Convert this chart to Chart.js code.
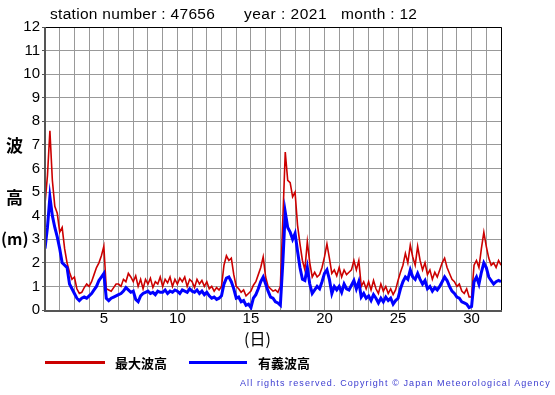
<!DOCTYPE html>
<html>
<head>
<meta charset="utf-8">
<script src="https://cdn.jsdelivr.net/npm/chart.js@4"></script>
<style>
  body { margin: 0; background: #fff; }
  #wrap { position: relative; width: 555px; height: 395px; font-family: "Liberation Sans", Arial, sans-serif; }
  #wrap canvas { position: absolute; left: 0; top: 0; }
  .t { position: absolute; white-space: nowrap; color: #000; }
  .jp { font-family: "Noto Sans CJK JP", sans-serif; }
</style>
</head>
<body>
<div id="wrap">
  <canvas id="grafico" width="555" height="395"></canvas>
  <div class="t" style="left:50px; top:5px; font-size:15.5px; letter-spacing:0.3px;">station number : 47656</div>
  <div class="t" style="left:244px; top:5px; font-size:15.5px; letter-spacing:0.5px;">year : 2021</div>
  <div class="t" style="left:341px; top:5px; font-size:15.5px; letter-spacing:0.3px;">month : 12</div>
  <div class="t jp" style="left:6px; top:132px; font-size:17px; font-weight:bold;">波</div>
  <div class="t jp" style="left:6px; top:184px; font-size:17px; font-weight:bold;">高</div>
  <div class="t jp" style="left:1px; top:226px; font-size:16px; font-weight:bold;">(m)</div>
  <div class="t jp" style="left:244px; top:326px; font-size:16px;">(日)</div>
  <div style="position:absolute; left:45px; top:361px; width:60px; height:3px; background:#cc0000;"></div>
  <div class="t jp" style="left:115px; top:353px; font-size:13px; font-weight:bold;">最大波高</div>
  <div style="position:absolute; left:189px; top:361px; width:58px; height:3px; background:#0000ff;"></div>
  <div class="t jp" style="left:258px; top:353px; font-size:13px; font-weight:bold;">有義波高</div>
  <div class="t" style="left:240px; top:378px; font-size:9px; letter-spacing:1.1px; color:#3b3bd0;">All rights reserved. Copyright © Japan Meteorological Agency</div>
</div>
<script>
// Ondas - estação 47656, dezembro 2021 (6 amostras por dia)
const COR_MAX = "#cc0000";
const COR_SIG = "#0000ff";
const AMOSTRAS_DIA = 6;

const DIAS_TICK = [5, 10, 15, 20, 25, 30];
const ALTURAS_TICK = [0, 1, 2, 3, 4, 5, 6, 7, 8, 9, 10, 11, 12];

// 最大波高 (m)
const ondaMaxima = [
  4.5, 5.7, 7.6, 5.5, 4.4, 4.1,
  3.3, 3.5, 2.6, 2.0, 1.6, 1.3,
  1.4, 0.9, 0.7, 0.75, 0.95, 1.1,
  1.0, 1.2, 1.5, 1.8, 2.0, 2.3,
  2.7, 0.9, 0.85, 0.8, 0.95, 1.1,
  1.1, 1.0, 1.3, 1.2, 1.55, 1.4,
  1.2, 1.45, 1.0, 1.3, 0.9, 1.3,
  1.1, 1.35, 0.95, 1.2, 1.1, 1.4,
  1.0, 1.3, 1.15, 1.4, 1.0, 1.3,
  1.1, 1.35, 1.2, 1.4, 1.0, 1.3,
  1.2, 0.95, 1.3, 1.1, 1.25, 1.0,
  1.2, 0.9, 1.0, 0.8, 0.95, 0.85,
  1.0, 1.9, 2.3, 2.1, 2.2, 1.5,
  1.0, 0.9, 0.75, 0.85, 0.6, 0.7,
  0.8, 1.05, 1.2, 1.5, 1.8, 2.25,
  1.4, 1.0, 0.9, 0.8, 0.85, 0.75,
  1.0, 3.8, 6.7, 5.5, 5.4, 4.8,
  5.0, 3.6, 2.8, 2.1, 1.7, 2.9,
  2.0, 1.4, 1.6, 1.4, 1.5, 1.8,
  2.25, 2.8, 2.2, 1.55, 1.7, 1.45,
  1.8, 1.4, 1.7, 1.5, 1.6, 1.7,
  2.1, 1.7, 2.1, 1.0, 1.2, 0.9,
  1.2, 0.85, 1.25, 0.9, 0.7, 1.1,
  0.8, 1.0, 0.7, 0.9, 0.65, 0.85,
  1.25, 1.6, 1.9, 2.4, 2.0, 2.75,
  2.25, 1.9, 2.7, 2.1, 1.7, 2.0,
  1.5, 1.7, 1.3, 1.6, 1.4, 1.7,
  2.0, 2.2, 1.8, 1.55, 1.3, 1.2,
  1.0, 1.1, 0.8, 0.7, 0.9, 0.55,
  0.55, 1.9, 2.1, 1.8, 2.6, 3.3,
  2.7, 2.2, 1.9, 2.0, 1.8, 2.1,
  1.9
];

// 有義波高 (m)
const ondaSignificativa = [
  2.6, 3.5, 4.8, 4.0, 3.5, 3.1,
  2.6, 2.0, 1.9, 1.8, 1.1, 0.9,
  0.7, 0.5, 0.4, 0.5, 0.55, 0.5,
  0.6, 0.7, 0.85, 1.0, 1.25, 1.4,
  1.55, 0.5, 0.4, 0.5, 0.55, 0.6,
  0.65, 0.7, 0.8, 0.95, 0.85, 0.75,
  0.8, 0.45, 0.35, 0.6, 0.7, 0.75,
  0.8, 0.7, 0.75, 0.65, 0.8, 0.75,
  0.75, 0.85, 0.7, 0.8, 0.75, 0.85,
  0.8, 0.7, 0.85, 0.8, 0.75, 0.9,
  0.8, 0.75, 0.85, 0.7, 0.8, 0.65,
  0.75, 0.6, 0.5, 0.55, 0.45, 0.5,
  0.6, 1.1, 1.35, 1.4, 1.2, 0.9,
  0.5, 0.55, 0.35, 0.4, 0.2, 0.25,
  0.1, 0.5, 0.65, 0.9, 1.2, 1.4,
  1.1, 0.8, 0.55, 0.5, 0.35, 0.3,
  0.2, 2.0, 4.15, 3.5, 3.3, 3.0,
  3.25, 2.5, 1.8, 1.3, 1.25, 1.8,
  1.1, 0.7, 0.85, 1.0, 0.9, 1.2,
  1.55, 1.7, 1.3, 0.7, 1.0, 0.85,
  1.0, 0.75, 1.1, 0.9, 0.85, 1.05,
  1.25, 0.9, 1.2, 0.55, 0.7, 0.5,
  0.6, 0.4, 0.65, 0.5, 0.3, 0.5,
  0.35, 0.55, 0.4, 0.5, 0.25, 0.4,
  0.5, 0.9, 1.2, 1.4, 1.3, 1.7,
  1.4, 1.3, 1.55, 1.3, 1.1, 1.25,
  0.9, 1.0, 0.8, 0.95, 0.85, 1.0,
  1.2, 1.4, 1.25, 1.0, 0.8, 0.7,
  0.55, 0.5, 0.35, 0.3, 0.25, 0.1,
  0.15, 1.2, 1.4, 1.1, 1.6, 2.0,
  1.8, 1.4, 1.25, 1.1, 1.2, 1.25,
  1.2
];

function pontos(serie) {
  return serie.map((v, i) => ({ x: 1 + i / AMOSTRAS_DIA, y: v }));
}

// borda do gráfico: topo/direita preto, esquerda/baixo cinza escuro
const bordaPlugin = {
  id: "borda",
  afterDatasetsDraw(chart) {
    const { ctx, chartArea: a } = chart;
    ctx.save();
    ctx.strokeStyle = "#000";
    ctx.lineWidth = 1;
    ctx.beginPath();
    ctx.moveTo(a.left, a.top + 0.5);
    ctx.lineTo(a.right + 0.5, a.top + 0.5);
    ctx.lineTo(a.right + 0.5, a.bottom);
    ctx.stroke();
    ctx.strokeStyle = "#555";
    ctx.lineWidth = 2;
    ctx.beginPath();
    ctx.moveTo(a.left, a.top);
    ctx.lineTo(a.left, a.bottom + 1);
    ctx.lineTo(a.right + 1, a.bottom + 1);
    ctx.stroke();
    ctx.restore();
  }
};

const ctx = document.getElementById("grafico").getContext("2d");
new Chart(ctx, {
  type: "line",
  data: {
    datasets: [
      {
        label: "有義波高",
        data: pontos(ondaSignificativa),
        borderColor: COR_SIG,
        borderWidth: 3,
        pointRadius: 0,
        tension: 0,
      },
      {
        label: "最大波高",
        data: pontos(ondaMaxima),
        borderColor: COR_MAX,
        borderWidth: 1.6,
        pointRadius: 0,
        tension: 0,
      }
    ]
  },
  plugins: [bordaPlugin],
  options: {
    responsive: false,
    animation: false,
    layout: { padding: { left: 0, top: 27, right: 54, bottom: 0 } },
    plugins: { legend: { display: false }, tooltip: { enabled: false } },
    scales: {
      x: {
        type: "linear",
        min: 1,
        max: 32,
        afterFit: s => { s.height = 85; },
        afterBuildTicks: s => {
          s.ticks = [];
          for (let d = 1; d <= 32; d++) s.ticks.push({ value: d });
        },
        ticks: {
          color: "#000",
          font: { family: "Liberation Sans", size: 15 },
          padding: 0,
          maxRotation: 0,
          autoSkip: false,
          callback: v => DIAS_TICK.includes(v) ? String(v) : ""
        },
        grid: { color: "#999", lineWidth: 1, drawTicks: false },
        border: { display: false }
      },
      y: {
        min: 0,
        max: 12,
        afterFit: s => { s.width = 45; },
        afterBuildTicks: s => { s.ticks = ALTURAS_TICK.map(v => ({ value: v })); },
        ticks: {
          color: "#000",
          font: { family: "Liberation Sans", size: 15 },
          padding: 2
        },
        grid: { color: "#999", lineWidth: 1, tickLength: 3, tickColor: "#555" },
        border: { display: false }
      }
    }
  }
});
</script>
</body>
</html>
